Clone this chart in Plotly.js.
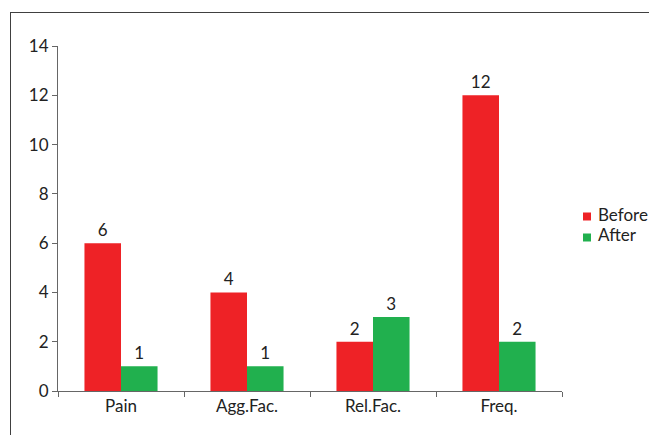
<!DOCTYPE html>
<html>
<head>
<meta charset="utf-8">
<script src="https://cdn.plot.ly/plotly-3.0.1.min.js"></script>
<style>
  html, body { margin: 0; padding: 0; background: #fff; }
  #wrap { position: relative; width: 649px; height: 435px; overflow: hidden; }
  #frame { position: absolute; left: 10px; top: 12px; width: 700px; height: 500px;
           border-left: 1px solid #404040; border-top: 1px solid #404040; pointer-events: none; }
  #chart { position: absolute; left: 0; top: 0; width: 649px; height: 435px; }
</style>
</head>
<body>
<div id="wrap">
  <div id="chart"></div>
  <div id="frame"></div>
</div>
<script>
const categories = ["Pain", "Agg.Fac.", "Rel.Fac.", "Freq."];
const beforeValues = [6, 4, 2, 12];
const afterValues = [1, 1, 3, 2];
const seriesNames = ["Before", "After"];
const yTicks = [0, 2, 4, 6, 8, 10, 12, 14];

const red = "#EE2226";
const green = "#21B04E";
const colors = [red, green];
const fontFam = "Lato, 'Open Sans', sans-serif";
const txtColor = "#222";
const fs = 17;

const traces = [
  { type: "bar", x: categories, y: beforeValues, name: seriesNames[0], showlegend: false,
    marker: { color: red }, text: beforeValues.map(String), textposition: "outside",
    textfont: { family: fontFam, size: fs, color: txtColor }, cliponaxis: false },
  { type: "bar", x: categories, y: afterValues, name: seriesNames[1], showlegend: false,
    marker: { color: green }, text: afterValues.map(String), textposition: "outside",
    textfont: { family: fontFam, size: fs, color: txtColor }, cliponaxis: false }
];

// plot area geometry (px) used to place the legend in paper units
const plotL = 58, plotW = 504, plotB = 391, plotH = 345;
const px2x = p => (p - plotL) / plotW;
const px2y = p => (plotB - p) / plotH;
const legendRows = [216.5, 237.5];
const shapes = [], annotations = [];
seriesNames.forEach((nm, i) => {
  const cy = legendRows[i];
  shapes.push({ type: "rect", xref: "paper", yref: "paper",
    x0: px2x(583), x1: px2x(591), y0: px2y(cy + 4), y1: px2y(cy - 4),
    fillcolor: colors[i], line: { width: 0 } });
  annotations.push({ xref: "paper", yref: "paper", x: px2x(596), y: px2y(cy - 2.5),
    xanchor: "left", yanchor: "middle", showarrow: false, text: nm,
    font: { family: fontFam, size: fs, color: txtColor } });
});

const layout = {
  width: 649, height: 435,
  margin: { l: 58, r: 87, t: 46, b: 44, autoexpand: false },
  paper_bgcolor: "rgba(0,0,0,0)", plot_bgcolor: "rgba(0,0,0,0)",
  font: { family: fontFam, size: fs, color: txtColor },
  barmode: "group", bargap: 0.42, bargroupgap: 0,
  showlegend: false,
  shapes: shapes, annotations: annotations,
  xaxis: { type: "category", showline: true, linecolor: "#666", linewidth: 1,
           ticks: "outside", ticklen: 5, tickcolor: "#666", tickson: "boundaries",
           showgrid: false, zeroline: false, automargin: false,
           tickfont: { family: fontFam, size: fs, color: txtColor } },
  yaxis: { range: [0, 14], tickvals: yTicks, ticktext: yTicks.map(String),
           showline: true, linecolor: "#666", linewidth: 1,
           ticks: "outside", ticklen: 5, tickcolor: "#666", automargin: false,
           showgrid: false, zeroline: false, tickfont: { family: fontFam, size: fs, color: txtColor } }
};

Plotly.newPlot("chart", traces, layout, { displayModeBar: false, staticPlot: true });
</script>
</body>
</html>
